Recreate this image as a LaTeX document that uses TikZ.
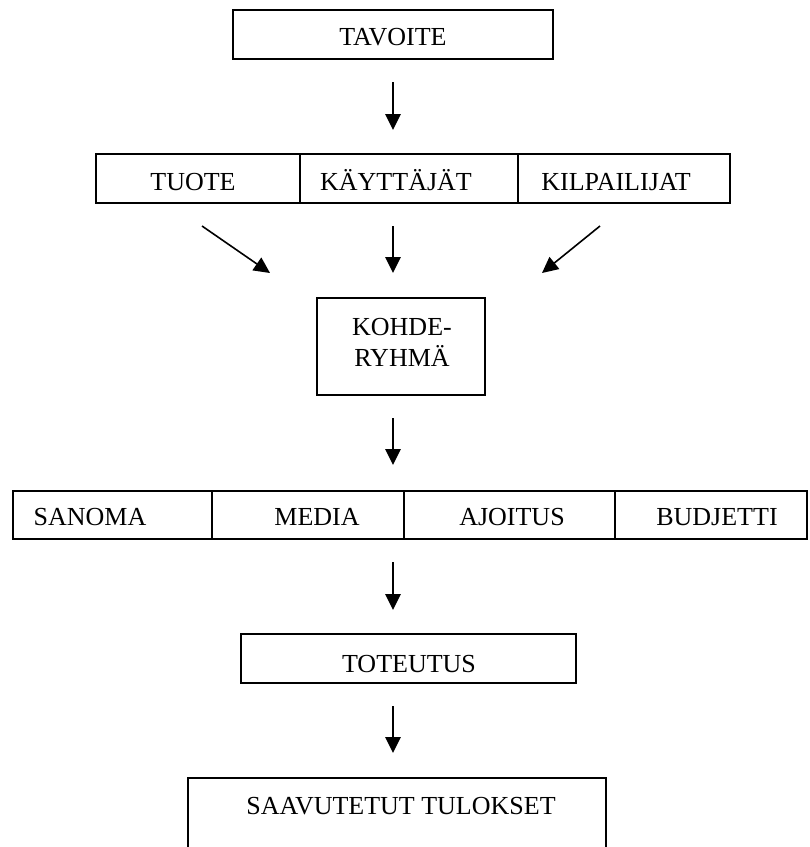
\documentclass[tikz,border=0pt]{standalone}
\usepackage{fontspec}
\setmainfont{Liberation Serif}
\usetikzlibrary{arrows.meta}
\begin{document}
\begin{tikzpicture}[x=0.75pt,y=-0.75pt,
  cell/.style={draw, line width=1.5pt, inner sep=0pt, minimum height=36.75pt},
  lbl/.style={font=\fontsize{19.5pt}{23.25pt}\selectfont, inner sep=0pt,
    text height=12.9pt, text depth=0pt},
  lbltwo/.style={font=\fontsize{19.5pt}{23.25pt}\selectfont, inner sep=0pt, align=center},
  arr/.style={line width=1.2pt, -{Triangle[length=12pt,width=11.5pt]}}]
\useasboundingbox (0,0) rectangle (810,847);
\clip (0,0) rectangle (810,847);

% goal
\node[cell, minimum width=240pt] (goal) at (393,34.5) {};
\node[lbl] (tGoal) at (393,37) {TAVOITE};

% analysis row
\node[cell, minimum width=153pt]   (product)  at (198,178.5) {};
\node[cell, minimum width=163.5pt] (users)    at (409,178.5) {};
\node[cell, minimum width=159pt]   (rivals)   at (624,178.5) {};
\node[lbl] (tProduct) at (193,182) {TUOTE};
\node[lbl] (tUsers)   at (396,182) {KÄYTTÄJÄT};
\node[lbl] (tRivals)  at (616,182) {KILPAILIJAT};

% target group
\node[cell, minimum width=126pt, minimum height=72.75pt] (target) at (401,346.5) {};
\node[lbltwo] (tTarget) at (402,342.5) {KOHDE-\\RYHMÄ};

% planning row
\node[cell, minimum width=149.25pt, minimum height=36pt] (message)  at (112.5,515) {};
\node[cell, minimum width=144pt,    minimum height=36pt] (media)    at (308,515) {};
\node[cell, minimum width=158.25pt, minimum height=36pt] (timing)   at (509.5,515) {};
\node[cell, minimum width=144pt,    minimum height=36pt] (budget)   at (711,515) {};
\node[lbl] (tMessage) at (90,517)  {SANOMA};
\node[lbl] (tMedia)   at (317,517) {MEDIA};
\node[lbl] (tTiming)  at (512,517) {AJOITUS};
\node[lbl] (tBudget)  at (717,517) {BUDJETTI};

% implementation
\node[cell, minimum width=251.25pt] (impl) at (408.5,658.5) {};
\node[lbl] (tImpl) at (409,664) {TOTEUTUS};

% results (runs off the bottom edge)
\node[cell, minimum width=313.5pt, minimum height=69pt] (results) at (397,824) {};
\node[lbl] (tResults) at (401,806) {SAAVUTETUT TULOKSET};

% arrow end points
\coordinate (a1s) at (393,82);  \coordinate (a1e) at (393,130);
\coordinate (a2s) at (202,226); \coordinate (a2e) at (270,273);
\coordinate (a3s) at (393,226); \coordinate (a3e) at (393,273);
\coordinate (a4s) at (600,226); \coordinate (a4e) at (542,273);
\coordinate (a5s) at (393,418); \coordinate (a5e) at (393,465);
\coordinate (a6s) at (393,562); \coordinate (a6e) at (393,610);
\coordinate (a7s) at (393,706); \coordinate (a7e) at (393,753);

\draw[arr] (a1s) -- (a1e);
\draw[arr] (a2s) -- (a2e);
\draw[arr] (a3s) -- (a3e);
\draw[arr] (a4s) -- (a4e);
\draw[arr] (a5s) -- (a5e);
\draw[arr] (a6s) -- (a6e);
\draw[arr] (a7s) -- (a7e);
\end{tikzpicture}
\end{document}
